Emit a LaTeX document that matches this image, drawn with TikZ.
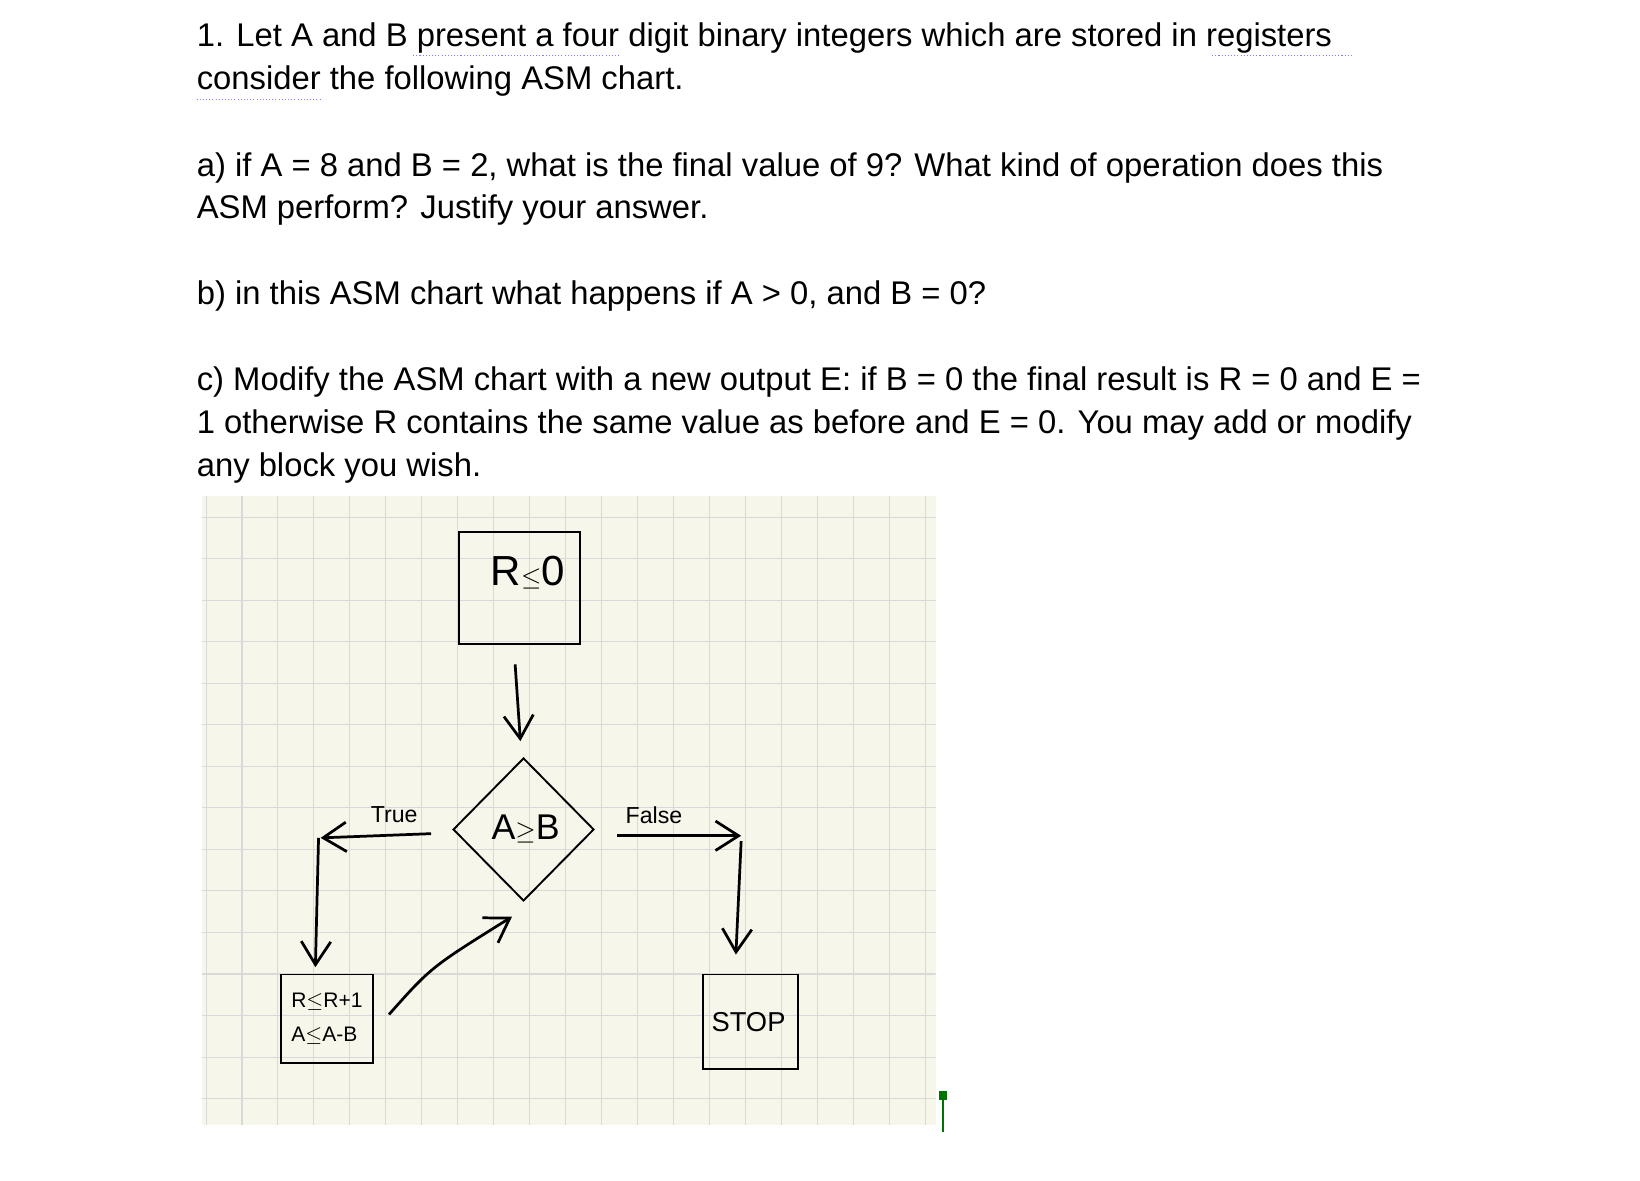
\documentclass[tikz,border=0pt]{standalone}
\usepackage{fontspec}
\setmainfont{Liberation Sans}
\usetikzlibrary{arrows.meta,shapes.geometric}
\definecolor{paper}{HTML}{F7F6EA}
\begin{document}
\begin{tikzpicture}[x=1pt,y=-1pt,
  txt/.style={anchor=west,inner sep=0pt,font=\fontsize{31.2}{36}\selectfont},
  box/.style={draw,line width=1.8pt,inner sep=0pt},
  hand/.style={font=\fontsize{26}{30}\selectfont},
  arr/.style={line width=2.6pt,-{Straight Barb[length=22pt,width=28pt]}},
  dotu/.style={blue!50,line width=1pt,dotted}]
\useasboundingbox (0,0) rectangle (1560,1123);
\fill[white] (0,0) rectangle (1560,1123);
% text
\node[txt] (l1) at (187,36) {1. Let A and B present a four digit binary integers which are stored in registers};
\node[txt] (l2) at (187,77) {consider the following ASM chart.};
\node[txt] (a1) at (187,160) {a) if A = 8 and B = 2, what is the final value of 9? What kind of operation does this};
\node[txt] (a2) at (187,200) {ASM perform? Justify your answer.};
\node[txt] (b1) at (187,282) {b) in this ASM chart what happens if A > 0, and B = 0?};
\node[txt] (c1) at (187,363) {c) Modify the ASM chart with a new output E: if B = 0 the final result is R = 0 and E =};
\node[txt] (c2) at (187,404) {1 otherwise R contains the same value as before and E = 0. You may add or modify};
\node[txt] (c3) at (187,445) {any block you wish.};
\draw[dotu] (393,53) -- (590,53);
\draw[dotu] (1153,53) -- (1287,53);
\draw[dotu] (187,95) -- (307,95);
% grid
\fill[paper] (192,472) rectangle (890,1070);
\begin{scope}
\clip (192,472) rectangle (890,1070);
\foreach \i in {0,...,21} \draw[black!15,line width=1pt] (196+34.2*\i,472) -- (196+34.2*\i,1070);
\foreach \j in {0,...,15} \draw[black!15,line width=1pt] (192,492+39.5*\j) -- (890,492+39.5*\j);
\end{scope}
% nodes
\node[box,minimum width=115pt,minimum height=107pt] (r0) at (494.5,559.5) {};
\node[hand,font=\fontsize{40}{44}\selectfont] (r0t) at (502,545) {R$\leq$0};
\node[box,diamond,minimum width=134pt,minimum height=136pt] (d) at (498,789) {};
\node[hand,font=\fontsize{34}{38}\selectfont] (dt) at (500,789) {A$\geq$B};
\node[box,minimum width=88pt,minimum height=84pt] (inc) at (311,969) {};
\node[hand,align=left,font=\fontsize{20}{32}\selectfont] (inct) at (311,969) {R$\leq$R+1\\A$\leq$A-B};
\node[box,minimum width=90pt,minimum height=90pt] (stop) at (714,972) {};
\node[hand] (stopt) at (712,972) {STOP};
\node[hand,font=\fontsize{22}{26}\selectfont] (tl) at (375,775) {True};
\node[hand,font=\fontsize{22}{26}\selectfont] (fl) at (622,775) {False};
% connectors
\coordinate (a0) at (490,632); \coordinate (a1e) at (495,705);
\draw[arr] (a0) -- (a1e);
\coordinate (t0) at (410,793); \coordinate (t1) at (305,797);
\draw[arr] (t0) -- (t1);
\coordinate (t2) at (303,797); \coordinate (t3) at (300,920);
\draw[arr] (t2) -- (t3);
\coordinate (f0) at (587,795); \coordinate (f1) at (705,795);
\draw[arr] (f0) -- (f1);
\coordinate (f2) at (705,800); \coordinate (f3) at (700,908);
\draw[arr] (f2) -- (f3);
\coordinate (u0) at (370,965); \coordinate (u1) at (487,872);
\draw[arr] (u0) .. controls (410,920) .. (u1);
% cursor
\draw[green!45!black,line width=2.5pt] (897,1040) -- (897,1077);
\fill[green!45!black] (893,1038) rectangle (901,1046);
\end{tikzpicture}
\end{document}
